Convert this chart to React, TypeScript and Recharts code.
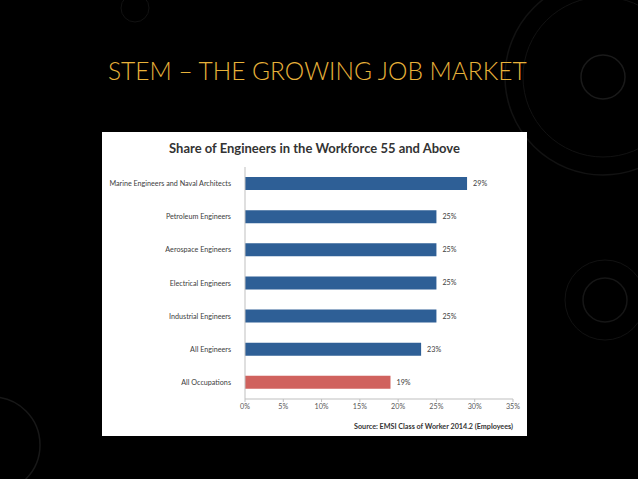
import React from "react";
import { Bar, BarChart, Cell, LabelList, XAxis, YAxis } from "recharts";

const occupations = [
  "Marine Engineers and Naval Architects",
  "Petroleum Engineers",
  "Aerospace Engineers",
  "Electrical Engineers",
  "Industrial Engineers",
  "All Engineers",
  "All Occupations",
];
const sharePct = [29, 25, 25, 25, 25, 23, 19];
const xTicks = [0, 5, 10, 15, 20, 25, 30, 35];
// category boundaries, for the little Excel-style ticks on the vertical axis
const bandEdges = [0, 1, 2, 3, 4, 5, 6, 7];
const barColors = ["#2e5f96", "#2e5f96", "#2e5f96", "#2e5f96", "#2e5f96", "#2e5f96", "#d0625e"];

const data = occupations.map((name, i) => ({ name, share: sharePct[i] }));

const font = "Lato, 'Open Sans', sans-serif";

function Decor() {
  const c = "#121212";
  return (
    <svg width={638} height={479} style={{ position: "absolute", left: 0, top: 0 }}>
      <circle cx={603} cy={77} r={98} fill="none" stroke={c} strokeWidth={1.5} />
      <circle cx={603} cy={77} r={80} fill="none" stroke={c} strokeWidth={1} />
      <circle cx={603} cy={77} r={22} fill="none" stroke="#1a1a1a" strokeWidth={1.5} />
      <circle cx={605} cy={300} r={22} fill="none" stroke="#161616" strokeWidth={1.5} />
      <circle cx={605} cy={300} r={40} fill="none" stroke={c} strokeWidth={1} />
      <circle cx={-8} cy={445} r={48} fill="none" stroke="#181818" strokeWidth={1.5} />
      <circle cx={135} cy={8} r={14} fill="none" stroke={c} strokeWidth={1} />
    </svg>
  );
}

function CategoryTick(props: any) {
  const { x, y, payload } = props;
  return (
    <text x={x} y={y} dy={2.5} textAnchor="end" fill="#404040" fontSize={7.2} fontFamily={font}>
      {payload.value}
    </text>
  );
}

export default function App() {
  return (
    <div style={{ position: "absolute", left: 0, top: 0, width: 638, height: 479, background: "#000", overflow: "hidden" }}>
      <Decor />
      <div
        style={{
          position: "absolute", left: 108, top: 56, width: 410, whiteSpace: "nowrap",
          fontFamily: font, fontWeight: 300, fontSize: 24.5, color: "#e8b23a",
        }}
      >
        STEM – THE GROWING JOB MARKET
      </div>
      <div style={{ position: "absolute", left: 102, top: 132, width: 425, height: 304, background: "#fff" }}>
        <div
          style={{
            position: "absolute", left: 0, top: 8, width: 425, textAlign: "center",
            fontFamily: font, fontWeight: 700, fontSize: 13, color: "#333",
          }}
        >
          Share of Engineers in the Workforce 55 and Above
        </div>
        <BarChart
          width={425}
          height={304}
          data={data}
          layout="vertical"
          barSize={13}
          margin={{ top: 35, right: 14, bottom: 18, left: 0 }}
        >
          <XAxis
            type="number"
            domain={[0, 35]}
            ticks={xTicks}
            tickFormatter={(v) => `${v}%`}
            interval={0}
            height={19}
            stroke="#bfbfbf"
            tickSize={3}
            tick={{ fill: "#595959", fontSize: 7.2, fontFamily: font }}
          />
          <YAxis
            yAxisId="edges"
            type="number"
            domain={[0, 7]}
            ticks={bandEdges}
            interval={0}
            width={0}
            axisLine={false}
            tickSize={3}
            stroke="#bfbfbf"
            tickFormatter={() => ""}
          />
          <YAxis
            type="category"
            dataKey="name"
            width={143}
            stroke="#bfbfbf"
            tickLine={false}
            tickMargin={8}
            tick={<CategoryTick />}
          />
          <Bar dataKey="share" isAnimationActive={false}>
            {data.map((d, i) => (
              <Cell key={d.name} fill={barColors[i]} />
            ))}
            <LabelList
              dataKey="share"
              position="right"
              offset={6}
              formatter={(v: number) => `${v}%`}
              style={{ fill: "#404040", fontSize: 7.2, fontFamily: font }}
            />
          </Bar>
        </BarChart>
        <div
          style={{
            position: "absolute", right: 14, top: 290, whiteSpace: "nowrap",
            fontFamily: font, fontWeight: 700, fontSize: 7.2, color: "#333",
          }}
        >
          Source: EMSI Class of Worker 2014.2 (Employees)
        </div>
      </div>
    </div>
  );
}
